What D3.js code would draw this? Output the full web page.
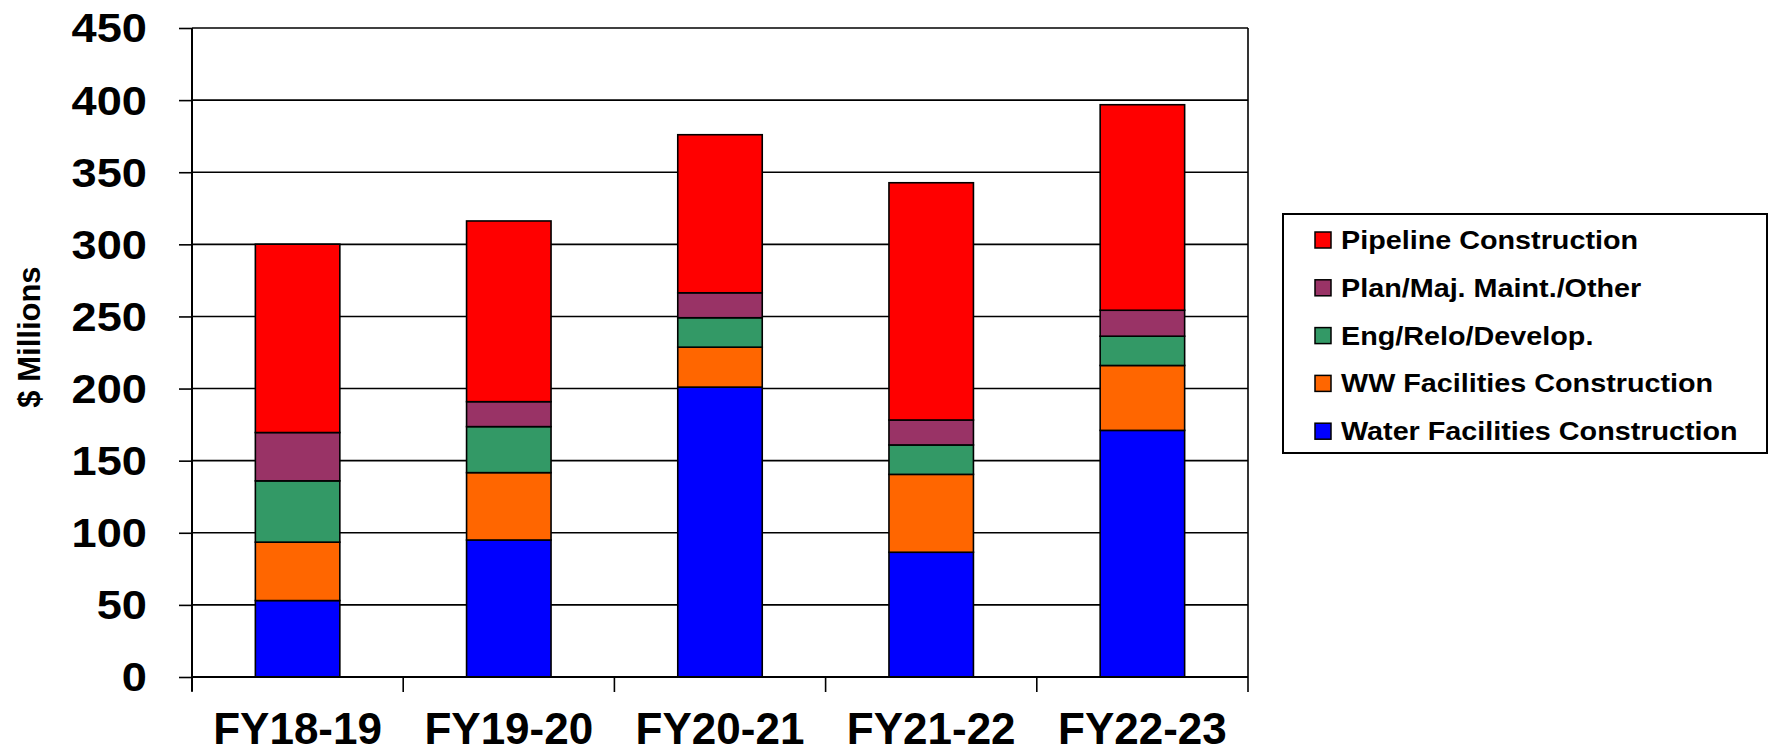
<!DOCTYPE html>
<html>
<head>
<meta charset="utf-8">
<script src="https://cdn.jsdelivr.net/npm/d3@7"></script>
<style>
  body { margin: 0; background: #fff; }
  text { font-family: "Liberation Sans", Arial, sans-serif; font-weight: bold; fill: #000; }
</style>
</head>
<body>
<div id="chart"></div>
<script>
// chart data
const years = ["FY18-19", "FY19-20", "FY20-21", "FY21-22", "FY22-23"];
const seriesNames = ["Water Facilities Construction", "WW Facilities Construction",
                     "Eng/Relo/Develop.", "Plan/Maj. Maint./Other", "Pipeline Construction"];
const seriesColors = ["#0000FF", "#FF6600", "#339966", "#993366", "#FF0000"];
const water    = [53, 95, 201, 86.5, 171];
const ww       = [40.5, 46.7, 27.7, 54, 45];
const eng      = [42.5, 31.9, 20.4, 20.4, 20.3];
const plan     = [33.5, 17.3, 17.3, 17.3, 18];
const pipeline = [130.6, 125.3, 109.6, 164.5, 142.5];
const yTicks = [0, 50, 100, 150, 200, 250, 300, 350, 400, 450];

const width = 1773, height = 754;
const plot = { left: 192, right: 1248, top: 28, bottom: 677 };

const svg = d3.select("#chart").append("svg")
    .attr("width", width)
    .attr("height", height);

const x = d3.scaleBand().domain(years).range([plot.left, plot.right]).padding(0);
const y = d3.scaleLinear().domain([0, 450]).range([plot.bottom, plot.top]);
const barW = x.bandwidth() * 0.4;

// build rows for d3.stack
const rows = years.map((yr, i) => ({
    year: yr,
    [seriesNames[0]]: water[i],
    [seriesNames[1]]: ww[i],
    [seriesNames[2]]: eng[i],
    [seriesNames[3]]: plan[i],
    [seriesNames[4]]: pipeline[i]
}));
const stacked = d3.stack().keys(seriesNames)(rows);
const color = d3.scaleOrdinal().domain(seriesNames).range(seriesColors);

// gridlines (behind bars)
svg.append("g").selectAll("line")
    .data(yTicks.filter(t => t > 0))
    .enter().append("line")
    .attr("x1", plot.left).attr("x2", plot.right)
    .attr("y1", d => y(d)).attr("y2", d => y(d))
    .style("stroke", "#000").style("stroke-width", 1.6);

// right border of plot area
svg.append("line")
    .attr("x1", plot.right).attr("x2", plot.right)
    .attr("y1", plot.top).attr("y2", plot.bottom)
    .style("stroke", "#000").style("stroke-width", 1.6);

// stacked bars
svg.append("g").selectAll("g")
    .data(stacked)
    .enter().append("g")
    .style("fill", d => color(d.key))
    .selectAll("rect")
    .data(d => d)
    .enter().append("rect")
    .attr("x", d => x(d.data.year) + x.bandwidth() / 2 - barW / 2)
    .attr("width", barW)
    .attr("y", d => y(d[1]))
    .attr("height", d => y(d[0]) - y(d[1]))
    .style("stroke", "#000")
    .style("stroke-width", 1.6);

// y axis
const yAxis = svg.append("g")
    .attr("transform", `translate(${plot.left},0)`)
    .call(d3.axisLeft(y).tickValues(yTicks).tickSize(13).tickFormat(""));
yAxis.select(".domain").attr("d", `M0,${plot.top}V${plot.bottom + 14}`).style("stroke-width", 2);
yAxis.selectAll(".tick line").style("stroke-width", 1.6);

// y tick labels (slightly wide in the reference)
svg.append("g").selectAll("text")
    .data(yTicks)
    .enter().append("text")
    .attr("transform", d => `translate(147,${y(d)}) scale(1.13,1)`)
    .attr("dy", "0.36em")
    .style("text-anchor", "end")
    .style("font-size", "40px")
    .text(d => d);

// x axis with ticks at category boundaries
const xAxis = svg.append("g")
    .attr("transform", `translate(0,${plot.bottom})`);
xAxis.append("line")
    .attr("x1", plot.left).attr("x2", plot.right)
    .style("stroke", "#000").style("stroke-width", 2);
xAxis.selectAll(".bound")
    .data(years.concat([null]))
    .enter().append("line")
    .attr("class", "bound")
    .attr("x1", (d, i) => plot.left + i * x.step())
    .attr("x2", (d, i) => plot.left + i * x.step())
    .attr("y1", 0).attr("y2", 15)
    .style("stroke", "#000").style("stroke-width", 1.6);

svg.append("g").selectAll("text")
    .data(years)
    .enter().append("text")
    .attr("x", d => x(d) + x.bandwidth() / 2)
    .attr("y", 744)
    .style("text-anchor", "middle")
    .style("font-size", "44px")
    .text(d => d);

// y axis title
svg.append("text")
    .attr("transform", "translate(40,337) rotate(-90)")
    .style("text-anchor", "middle")
    .style("font-size", "31px")
    .text("$ Millions");

// legend
const legend = svg.append("g");
legend.append("rect")
    .attr("x", 1283).attr("y", 214)
    .attr("width", 1767 - 1283).attr("height", 453 - 214)
    .style("fill", "#fff").style("stroke", "#000").style("stroke-width", 2);

const legendOrder = seriesNames.slice().reverse();
const item = legend.selectAll(".item")
    .data(legendOrder)
    .enter().append("g")
    .attr("class", "item")
    .attr("transform", (d, i) => `translate(1315,${240 + i * 47.8})`);
item.append("rect")
    .attr("x", 0).attr("y", -8)
    .attr("width", 16).attr("height", 16)
    .style("fill", d => color(d))
    .style("stroke", "#000").style("stroke-width", 1.5);
item.append("text")
    .attr("transform", "translate(26,0) scale(1.15,1)")
    .attr("dy", "0.36em")
    .style("font-size", "25px")
    .text(d => d);
</script>
</body>
</html>
